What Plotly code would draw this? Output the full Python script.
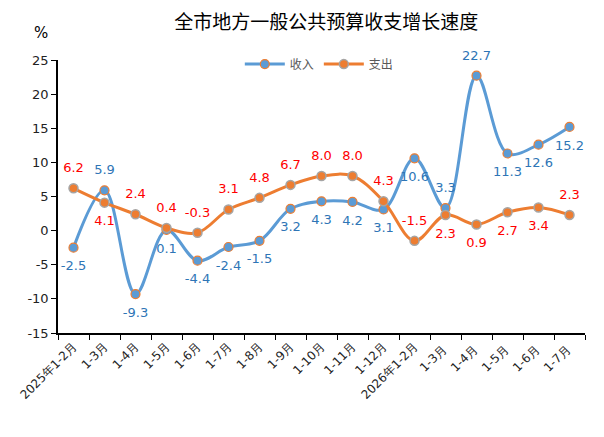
import plotly.graph_objects as go

categories = ["2025年1-2月", "1-3月", "1-4月", "1-5月", "1-6月", "1-7月", "1-8月", "1-9月",
              "1-10月", "1-11月", "1-12月", "2026年1-2月", "1-3月 ", "1-4月 ", "1-5月 ", "1-6月 ", "1-7月 "]
income = [-2.5, 5.9, -9.3, 0.1, -4.4, -2.4, -1.5, 3.2, 4.3, 4.2, 3.1, 10.6, 3.3, 22.7, 11.3, 12.6, 15.2]
spend = [6.2, 4.1, 2.4, 0.4, -0.3, 3.1, 4.8, 6.7, 8.0, 8.0, 4.3, -1.5, 2.3, 0.9, 2.7, 3.4, 2.3]
y_ticks = [-15, -10, -5, 0, 5, 10, 15, 20, 25]

income_pos = ["bottom center", "top center", "bottom center", "bottom center", "bottom center",
              "bottom center", "bottom center", "bottom center", "bottom center", "bottom center",
              "bottom center", "bottom center", "top center", "top center", "bottom center",
              "bottom center", "bottom center"]
spend_pos = ["top center", "bottom center", "top center", "top center", "top center", "top center",
             "top center", "top center", "top center", "top center", "top center", "top center",
             "bottom center", "bottom center", "bottom center", "bottom center", "top center"]

lab_font = "DejaVu Sans"
cjk = "Noto Sans CJK SC"

fig = go.Figure()

fig.add_trace(go.Scatter(
    name="收入", x=categories, y=income,
    mode="lines+markers",
    line=dict(color="#5B9BD5", width=3, shape="spline", smoothing=1),
    marker=dict(size=9, color="#5B9BD5", line=dict(color="#ED7D31", width=1.2)),
))
fig.add_trace(go.Scatter(
    name="支出", x=categories, y=spend,
    mode="lines+markers",
    line=dict(color="#ED7D31", width=3, shape="spline", smoothing=1),
    marker=dict(size=9, color="#ED7D31", line=dict(color="#A5A5A5", width=1.5)),
))

# labels as separate traces with invisible big markers so the text sits further from the points
for vals, pos, col in [(income, income_pos, "#2E75B6"), (spend, spend_pos, "#FF0000")]:
    fig.add_trace(go.Scatter(
        x=categories, y=vals, mode="markers+text", showlegend=False, hoverinfo="skip",
        marker=dict(size=19, opacity=0),
        text=[f"{v:.1f}" for v in vals], textposition=pos, cliponaxis=False,
        textfont=dict(color=col, size=13, family=lab_font),
    ))

# page body has an 8px margin, so margins are shifted to compensate
fig.update_layout(
    width=604, height=437,
    margin=dict(l=50, r=27, t=52, b=112),
    paper_bgcolor="white", plot_bgcolor="white",
    title=dict(text="全市地方一般公共预算收支增长速度", x=0.527, xanchor="center", y=0.968, yanchor="middle",
               font=dict(family=cjk, size=19, color="black")),
    showlegend=True,
    legend=dict(orientation="h", x=0.345, y=0.985, xanchor="left", yanchor="middle",
                font=dict(family=cjk, size=12, color="#595959"), bgcolor="rgba(0,0,0,0)",
                itemwidth=40),
    xaxis=dict(type="category", range=[-0.5, 16.5], tickangle=-45, tickson="boundaries",
               ticks="outside", ticklen=5, tickcolor="black", showline=True, linecolor="black",
               linewidth=1.5, showgrid=False, automargin=False,
               tickfont=dict(family=lab_font, size=12, color="#222")),
    yaxis=dict(range=[-15, 25], tickvals=y_ticks, ticktext=[str(v) for v in y_ticks],
               ticks="outside", ticklen=5, tickcolor="black", automargin=False,
               showline=True, linecolor="black", linewidth=1.5, showgrid=False, zeroline=False,
               tickfont=dict(family=lab_font, size=13, color="#222")),
    annotations=[dict(text="%", xref="paper", yref="paper", x=-0.015, y=1.1, xanchor="right",
                      yanchor="middle", showarrow=False,
                      font=dict(family=lab_font, size=15, color="black"))],
)

fig.write_html("out.html")
